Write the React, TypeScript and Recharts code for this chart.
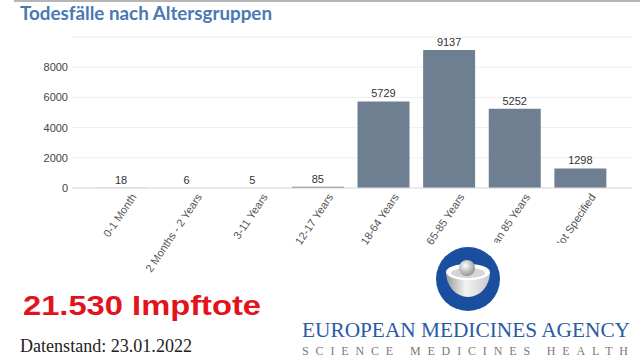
import { BarChart, Bar, XAxis, YAxis, CartesianGrid, LabelList } from "recharts"

// Todesfälle nach Altersgruppen (EMA, Stand 23.01.2022)
const ageGroups = [
  "0-1 Month",
  "2 Months - 2 Years",
  "3-11 Years",
  "12-17 Years",
  "18-64 Years",
  "65-85 Years",
  "More than 85 Years",
  "Not Specified"
]
const deaths = [18, 6, 5, 85, 5729, 9137, 5252, 1298]
const yTicks = [0, 2000, 4000, 6000, 8000]

const data = ageGroups.map((group, i) => ({ group, deaths: deaths[i] }))

const sans = "'Liberation Sans', Arial, sans-serif"
const serif = "'Liberation Serif', 'Times New Roman', serif"

function AngledTick(props: any) {
  const { x, y, payload } = props
  return (
    <g transform={`translate(${x + 16},${y + 7})`}>
      <text textAnchor="end" transform="rotate(-56)" fontSize={11} fill="#555" fontFamily={sans}>
        {payload.value}
      </text>
    </g>
  )
}

function Overlay() {
  return (
    <svg width={640} height={360} style={{ position: "absolute", left: 0, top: 0, pointerEvents: "none" }}>
      <defs>
        <linearGradient id="bowl" x1="0" y1="0" x2="1" y2="0">
          <stop offset="0%" stopColor="#9a9a9a" />
          <stop offset="45%" stopColor="#f4f4f4" />
          <stop offset="100%" stopColor="#c9c9c9" />
        </linearGradient>
        <radialGradient id="ball" cx="0.4" cy="0.35" r="0.7">
          <stop offset="0%" stopColor="#ffffff" />
          <stop offset="100%" stopColor="#8c8c8c" />
        </radialGradient>
      </defs>
      <line x1={14} y1={1} x2={640} y2={1} stroke="#b5b5b5" strokeWidth={2} />
      <text x={20} y={20} fontSize={18} fontWeight="bold" fill="#4a78b4" fontFamily="Lato, 'Open Sans', sans-serif"
        textLength={252} lengthAdjust="spacingAndGlyphs">
        Todesfälle nach Altersgruppen
      </text>

      {/* logo background hides the end of the long labels */}
      <rect x={484} y={243} width={156} height={117} fill="#fff" />
      <circle cx={468} cy={279} r={32} fill="#1a4f9f" />
      <path d="M446,272 A22,25 0 0 0 490,272 Z" fill="url(#bowl)" />
      <ellipse cx={468} cy={272} rx={22} ry={8} fill="#ffffff" />
      <ellipse cx={468} cy={273} rx={17} ry={5} fill="#d5d5d5" />
      <circle cx={467} cy={268} r={8} fill="url(#ball)" />

      <text x={302} y={337} fontSize={22} fill="#2b5aa5" fontFamily={serif} textLength={328} lengthAdjust="spacingAndGlyphs">
        EUROPEAN MEDICINES AGENCY
      </text>
      <text x={302} y={355} fontSize={12} fill="#7a7a7a" fontFamily={serif} textLength={326} lengthAdjust="spacing">
        SCIENCE   MEDICINES   HEALTH
      </text>

      <text x={23} y={315} fontSize={28} fontWeight="bold" fill="#e3131b" fontFamily={sans} textLength={238} lengthAdjust="spacingAndGlyphs">
        21.530 Impftote
      </text>
      <text x={20} y={352} fontSize={18} fill="#222" fontFamily={serif} textLength={172} lengthAdjust="spacingAndGlyphs">
        Datenstand: 23.01.2022
      </text>
    </svg>
  )
}

export default function App() {
  return (
    <div style={{ position: "absolute", left: 0, top: 0, width: 640, height: 360, background: "#fff", overflow: "hidden" }}>
      <div style={{ position: "absolute", left: 0, top: 0 }}>
        <BarChart width={640} height={300} data={data} margin={{ top: 37, right: 8, bottom: 0, left: 0 }}>
          <CartesianGrid vertical={false} stroke="#eeeeee" />
          <XAxis
            dataKey="group"
            interval={0}
            height={112}
            padding={{ left: 16, right: 19 }}
            axisLine={{ stroke: "#dddddd" }}
            tickLine={false}
            tickSize={0}
            tick={<AngledTick />}
          />
          <YAxis
            width={72}
            domain={[0, 10000]}
            ticks={yTicks}
            axisLine={false}
            tickLine={false}
            tickSize={0}
            tickMargin={4}
            tick={{ fill: "#444", fontSize: 11, fontFamily: sans }}
          />
          <Bar dataKey="deaths" fill="#6f7f92" barSize={52} isAnimationActive={false}>
            <LabelList dataKey="deaths" position="top" offset={4} fill="#333" fontSize={11} fontFamily={sans} />
          </Bar>
        </BarChart>
      </div>
      <Overlay />
    </div>
  )
}
